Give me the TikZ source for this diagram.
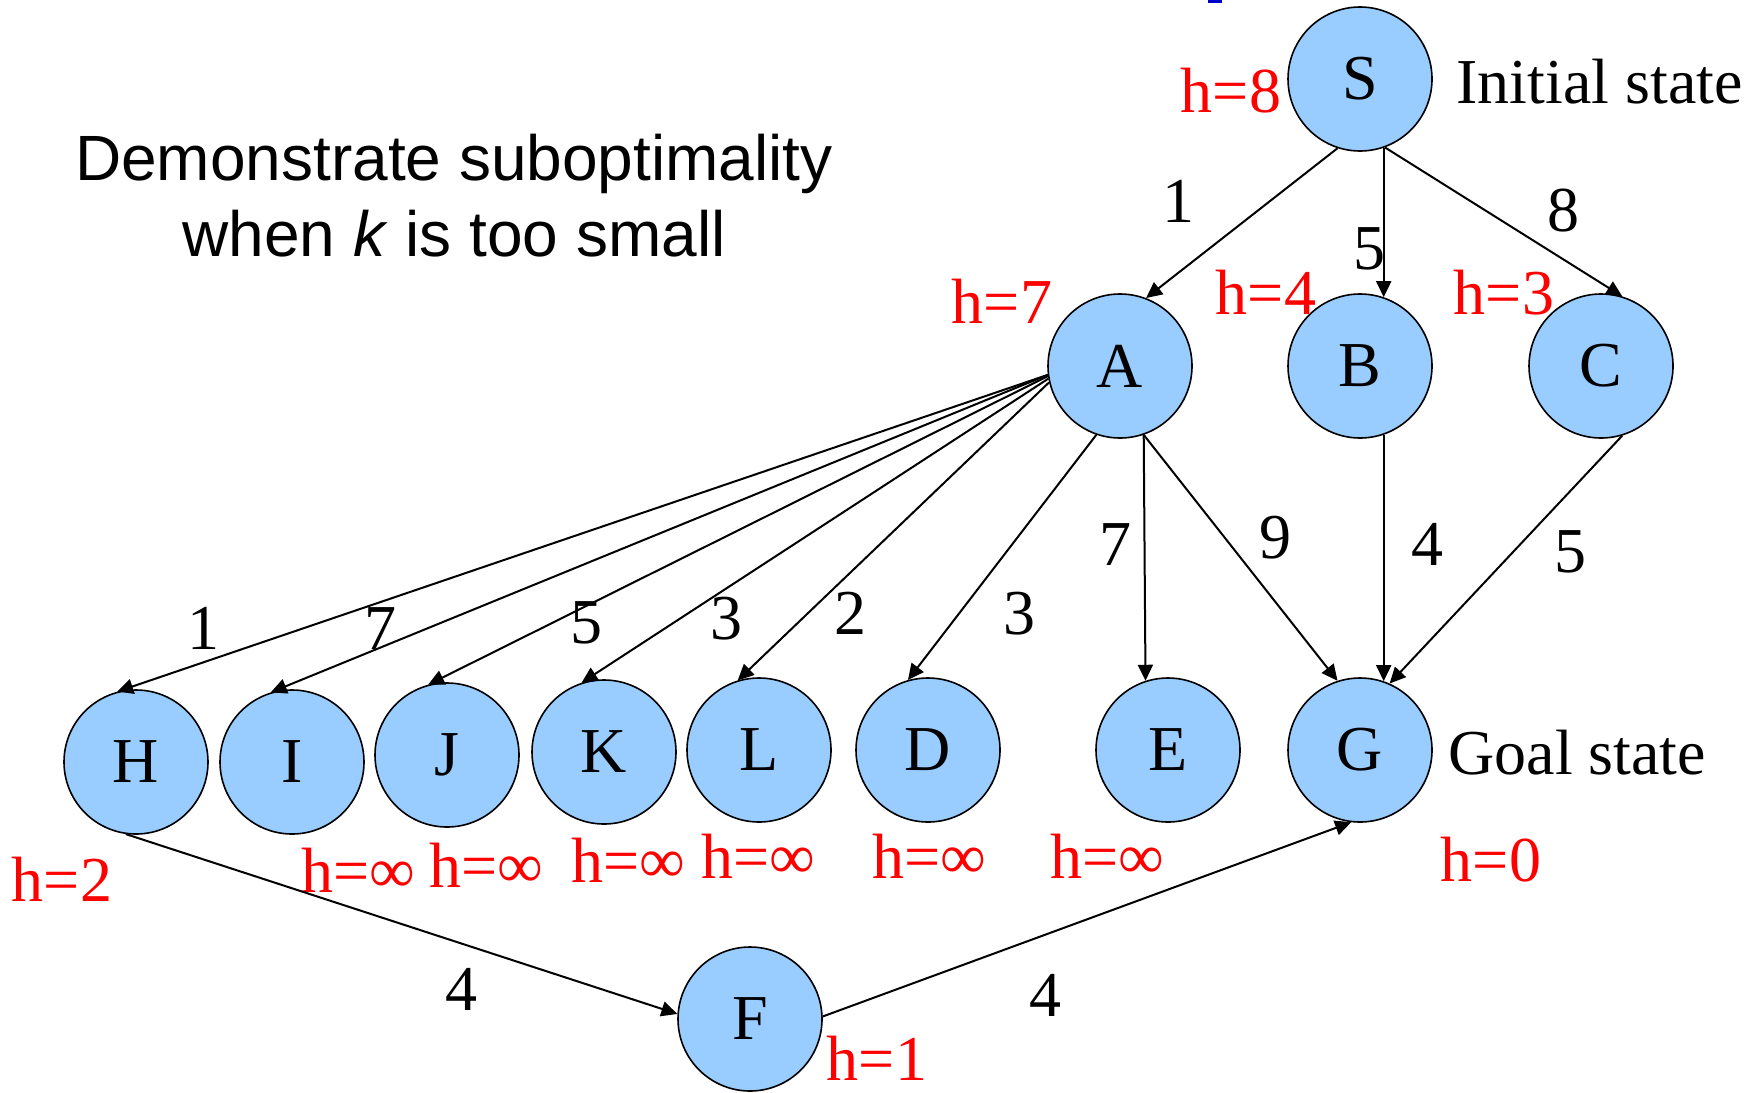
\documentclass[tikz,border=0pt]{standalone}
\usepackage{fontspec}
\setmainfont{Liberation Serif}
\newfontfamily\arialf{Liberation Sans}
\usetikzlibrary{arrows.meta}
\definecolor{nodeblue}{HTML}{99CCFF}
\definecolor{topblue}{HTML}{0000CC}
\begin{document}
\begin{tikzpicture}[x=0.5pt,y=-0.5pt,
 st/.style={circle,draw=black,line width=0.8pt,fill=nodeblue,minimum size=72pt,inner sep=0pt,font=\fontsize{32}{38}\selectfont},
 hl/.style={text=red,anchor=base,inner sep=0pt,font=\fontsize{32}{38}\selectfont},
 wl/.style={text=black,anchor=base,inner sep=0pt,font=\fontsize{32}{38}\selectfont},
 side/.style={text=black,anchor=base west,inner sep=0pt,font=\fontsize{32}{38}\selectfont},
 ed/.style={draw=black,line width=1pt,-{Triangle[length=8pt,width=7.5pt]}},
]
\useasboundingbox (0,0) rectangle (1760,1092);
\fill[white] (0,0) rectangle (1760,1092);
\fill[topblue] (1208,0) rectangle (1222,3);

% title text
\node[anchor=base,inner sep=0pt,font=\arialf\fontsize{32}{38}\selectfont] (t1) at (454,180) {Demonstrate suboptimality};
\node[anchor=base,inner sep=0pt,font=\arialf\fontsize{32}{38}\selectfont] (t2) at (454,256) {when \textit{k} is too small};

% nodes
\node[st] (S) at (1360,79) {S};
\node[st] (A) at (1120,366) {A};
\node[st] (B) at (1360,366) {B};
\node[st] (C) at (1601,366) {C};
\node[st] (H) at (136,762) {H};
\node[st] (I) at (292,762) {I};
\node[st] (J) at (447,755) {J};
\node[st] (K) at (604,752) {K};
\node[st] (L) at (759,750) {L};
\node[st] (D) at (928,750) {D};
\node[st] (E) at (1168,750) {E};
\node[st] (G) at (1360,750) {G};
\node[st] (F) at (750,1019) {F};

% side labels
\node[side] (init) at (1456,103) {Initial state};
\node[side] (goal) at (1448,774) {Goal state};

% heuristic labels
\node[hl] (hS) at (1231,112) {h=8};
\node[hl] (hA) at (1002,323) {h=7};
\node[hl] (hB) at (1266,314) {h=4};
\node[hl] (hC) at (1504,314) {h=3};
\node[hl] (hH) at (62,901) {h=2};
\node[hl] (hI) at (358,892) {h=∞};
\node[hl] (hJ) at (486,887) {h=∞};
\node[hl] (hK) at (628,882) {h=∞};
\node[hl] (hL) at (758,878) {h=∞};
\node[hl] (hD) at (929,878) {h=∞};
\node[hl] (hE) at (1107,878) {h=∞};
\node[hl] (hG) at (1491,881) {h=0};
\node[hl] (hF) at (877,1080) {h=1};

% edges
\draw[ed] (S.252) -- (A.69);
\draw[ed] (S.289) -- (B.71);
\draw[ed] (S.290) -- (C.73);
\draw[ed] (A.187) -- (H.105);
\draw[ed] (A.187) -- (I.107);
\draw[ed] (A.188) -- (J.105);
\draw[ed] (A.190) -- (K.108);
\draw[ed] (A.193) -- (L.107);
\draw[ed] (A.251) -- (D.106);
\draw[ed] (A.289) -- (E.108);
\draw[ed] (A.289) -- (G.108);
\draw[ed] (B.289) -- (G.71);
\draw[ed] (C.287) -- (G.66);
\draw[ed] (H.262) -- (F.176);
\draw[ed] (F.2) -- (G.263);

% weights
\node[wl] (w1) at (1178,222) {1};
\node[wl] (w2) at (1369,269) {5};
\node[wl] (w3) at (1563,231) {8};
\node[wl] (w4) at (203,649) {1};
\node[wl] (w5) at (380,649) {7};
\node[wl] (w6) at (586,643) {5};
\node[wl] (w7) at (726,639) {3};
\node[wl] (w8) at (850,634) {2};
\node[wl] (w9) at (1019,634) {3};
\node[wl] (w10) at (1115,565) {7};
\node[wl] (w11) at (1275,558) {9};
\node[wl] (w12) at (1427,565) {4};
\node[wl] (w13) at (1570,572) {5};
\node[wl] (w14) at (461,1010) {4};
\node[wl] (w15) at (1045,1016) {4};
\end{tikzpicture}
\end{document}
